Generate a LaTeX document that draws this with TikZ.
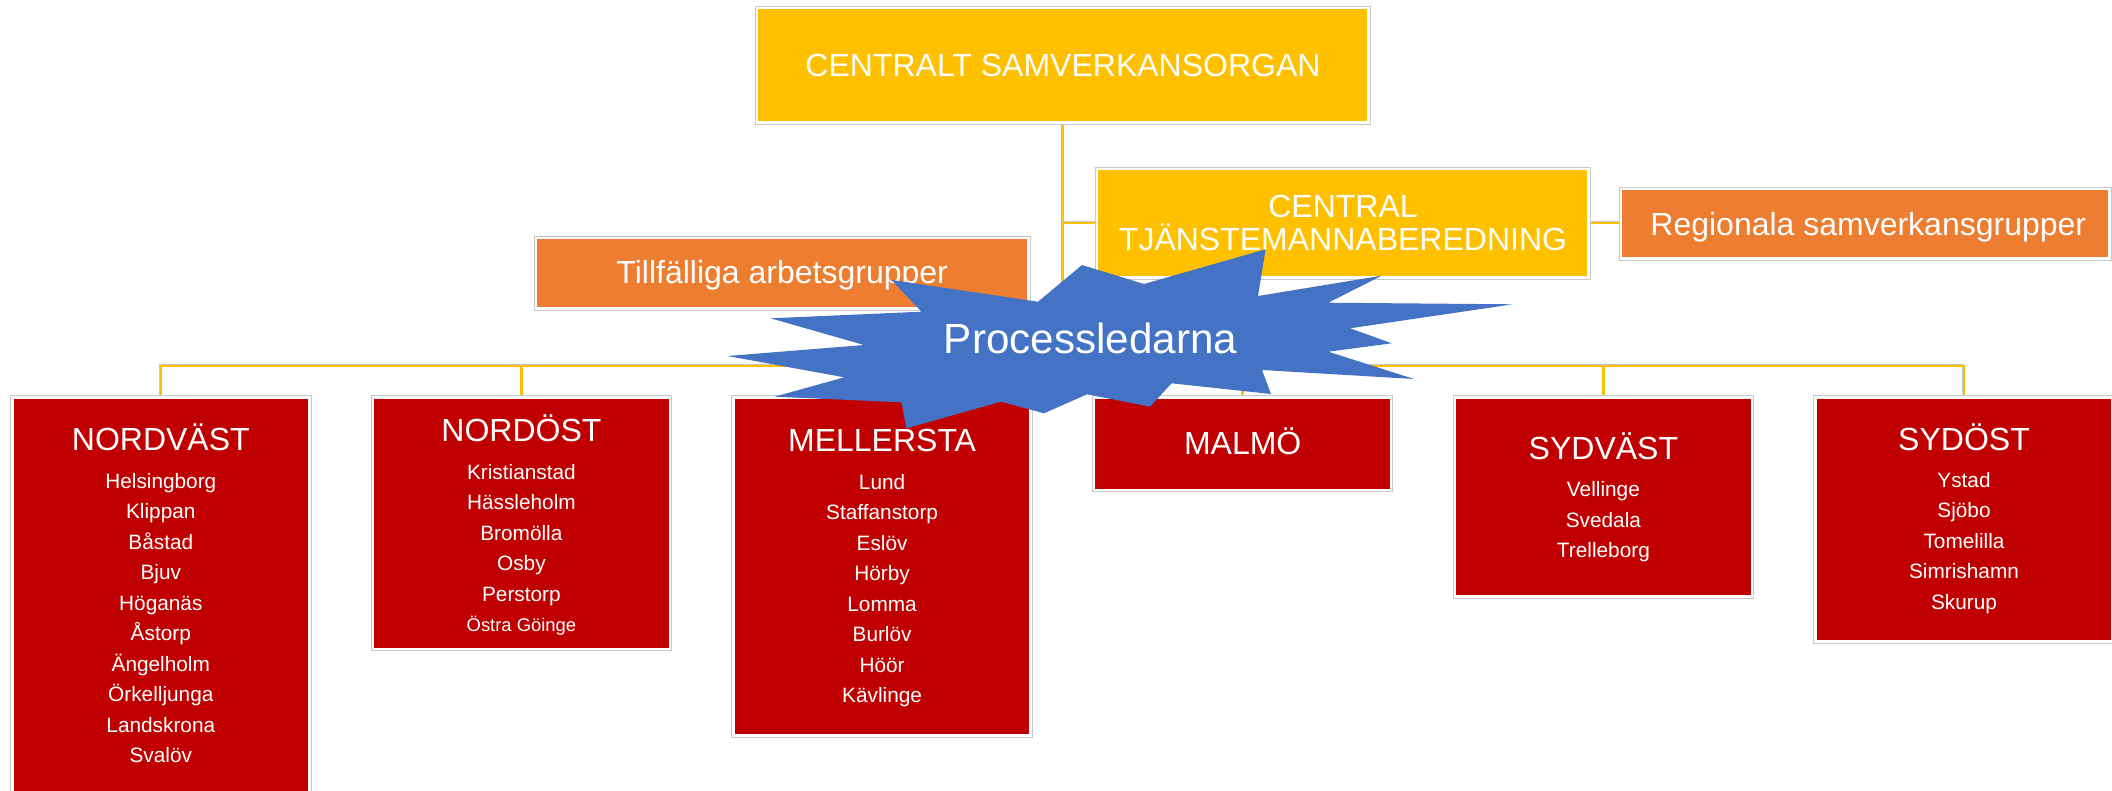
\documentclass[tikz,border=0pt]{standalone}
\usepackage{fontspec}
\setmainfont{Liberation Sans}
\pgfdeclarelayer{bg}
\pgfsetlayers{bg,main}
\definecolor{cyel}{HTML}{FFC000}
\definecolor{corg}{HTML}{ED7D31}
\definecolor{cred}{HTML}{C00000}
\definecolor{cblue}{HTML}{4472C4}
\definecolor{cedge}{HTML}{C8C8C8}
\newcommand\munlist[4]{%
  \foreach \t [count=\i] in {#4}
    \node[itemtxt] (#1-\i) at ({#2},{#3+30.5*(\i-1)}) {\t};}
\begin{document}
\begin{tikzpicture}[x=1pt,y=-1pt,
  box/.style={rectangle, inner sep=0pt, outer sep=0pt, draw=white, line width=2.5pt},
  boxedge/.style={draw=cedge, line width=1pt},
  conn/.style={draw=cyel, line width=2.2pt, line join=miter,
    preaction={draw=cedge, line width=1.6pt, transform canvas={shift={(-0.9pt,0.9pt)}}}},
  bigtxt/.style={text=white, font=\fontsize{32}{32}\selectfont, inner sep=0pt, anchor=base},
  itemtxt/.style={text=white, font=\fontsize{20.8}{24}\selectfont, inner sep=0pt, anchor=base},
  startxt/.style={text=white, font=\fontsize{42.2}{44}\selectfont, inner sep=0pt, anchor=base},
  burst/.style={fill=cblue, draw=none}
]
\useasboundingbox (0,0) rectangle (2112,790);
\clip (0,0) rectangle (2112,790);

% boxes
\node[box, fill=cyel, minimum width=611.5, minimum height=114.5] (top) at (1062.5,65) {};
\node[box, fill=cyel, minimum width=491.5, minimum height=108.5] (tj) at (1342.5,223) {};
\node[box, fill=corg, minimum width=488.2, minimum height=69.2] (reg) at (1865.2,223.7) {};
\node[box, fill=corg, minimum width=492.5, minimum height=70.5] (tmp) at (782,273) {};

\node[box, fill=cred, minimum width=297, minimum height=431] (nv) at (160.8,612.75) {};
\node[box, fill=cred, minimum width=297, minimum height=251.7] (no) at (521.4,523.1) {};
\node[box, fill=cred, minimum width=297, minimum height=338.3] (me) at (882.1,566.4) {};
\node[box, fill=cred, minimum width=297, minimum height=92.7] (ma) at (1242.7,443.6) {};
\node[box, fill=cred, minimum width=297, minimum height=199.3] (sv) at (1603.4,496.9) {};
\node[box, fill=cred, minimum width=297, minimum height=244.3] (so) at (1964,519.4) {};

\foreach \n in {top,tj,reg,tmp,nv,no,me,ma,sv,so}
  \draw[boxedge] ([shift={(-1.75,-1.75)}]\n.north west) rectangle ([shift={(1.75,1.75)}]\n.south east);

% connectors
\begin{pgfonlayer}{bg}
\coordinate (bar) at (0,366);
\draw[conn] (top.south) -- (top.south |- bar);
\draw[conn] (top.south |- tj.west) -- (tj.west);
\draw[conn] (tj.east) -- (tj.east -| reg.west);
\draw[conn] (nv.north) -- (nv.north |- bar) -- (so.north |- bar) -- (so.north);
\foreach \n in {no,me,ma,sv} \draw[conn] (\n.north |- bar) -- (\n.north);
\end{pgfonlayer}

% texts of upper boxes
\node[bigtxt] (t-top) at (1063,76) {CENTRALT SAMVERKANSORGAN};
\node[bigtxt] (t-tj1) at (1343,217.3) {CENTRAL};
\node[bigtxt] (t-tj2) at (1343,250) {TJÄNSTEMANNABEREDNING};
\node[bigtxt] (t-reg) at (1868.3,235) {Regionala samverkansgrupper};
\node[bigtxt] (t-tmp) at (782.2,283.3) {Tillfälliga arbetsgrupper};

% region titles
\node[bigtxt] (t-nv) at (160.8,450.7) {NORDVÄST};
\node[bigtxt] (t-no) at (521.4,441.7) {NORDÖST};
\node[bigtxt] (t-me) at (882.1,451.7) {MELLERSTA};
\node[bigtxt] (t-ma) at (1242.7,454) {MALMÖ};
\node[bigtxt] (t-sv) at (1603.4,459.3) {SYDVÄST};
\node[bigtxt] (t-so) at (1964,450.7) {SYDÖST};

% municipalities
\munlist{nvl}{160.8}{488.3}{Helsingborg,Klippan,Båstad,Bjuv,Höganäs,Åstorp,Ängelholm,Örkelljunga,Landskrona,Svalöv}
\munlist{nol}{521.4}{479}{Kristianstad,Hässleholm,Bromölla,Osby,Perstorp,{\fontsize{18.4}{20}\selectfont Östra Göinge}}
\munlist{mel}{882.1}{489}{Lund,Staffanstorp,Eslöv,Hörby,Lomma,Burlöv,Höör,Kävlinge}
\munlist{svl}{1603.4}{496.7}{Vellinge,Svedala,Trelleborg}
\munlist{sol}{1964}{487.3}{Ystad,Sjöbo,Tomelilla,Simrishamn,Skurup}

% star
\path[burst] (1265.6,249.3) -- (1258,296) -- (1381.7,275.7) -- (1328.3,302.7)
  -- (1512.7,304.3) -- (1350,328.3) -- (1391.7,343.3) -- (1328.3,351.7)
  -- (1414,379) -- (1262,370) -- (1271,394) -- (1171.6,383.3)
  -- (1150,406.7) -- (1087,394.3) -- (1044,413.3) -- (1001,401.7)
  -- (906.4,428.3) -- (901.5,402.3) -- (774.6,396.7) -- (844.3,377.3)
  -- (727.4,356) -- (864,345) -- (770.6,318.3) -- (921.4,311.7)
  -- (891.5,280) -- (1038,301.7) -- (1082,265) -- (1144,284) -- cycle;
\node[startxt] (t-star) at (1090.5,353.3) {Processledarna};
\end{tikzpicture}
\end{document}
